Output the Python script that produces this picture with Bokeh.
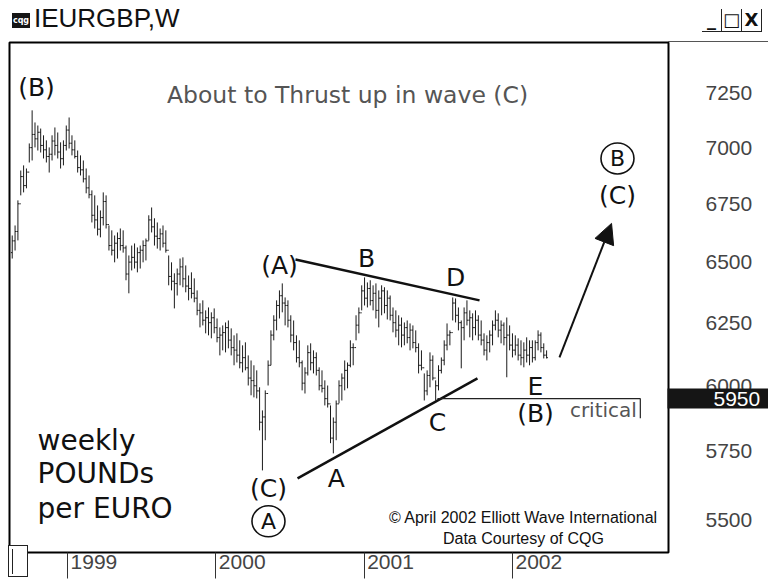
import pandas as pd
from bokeh.plotting import figure
from bokeh.layouts import column
from bokeh.models import (ColumnDataSource, FixedTicker, Arrow, NormalHead, Div,
                          PrintfTickFormatter, LogAxis)
from bokeh.core.properties import value
from bokeh.embed import file_html
from bokeh.resources import INLINE

# ---------------- data (weekly EUR/GBP x 10000) ----------------
first_week = "1998-08-18"

highs = [
    6613, 6656, 6765, 6897, 6920, 6906, 7019, 7171, 7115, 7101,
    7087, 7056, 7033, 7001, 7056, 7092, 7069, 7024, 7033, 7101,
    7138, 7056, 7033, 6987, 6965, 6942, 6906, 6875, 6809, 6787,
    6743, 6721, 6800, 6787, 6656, 6635, 6613, 6626, 6643, 6635,
    6570, 6528, 6570, 6579, 6562, 6570, 6592, 6600, 6700, 6734,
    6687, 6669, 6643, 6656, 6635, 6528, 6499, 6453, 6473, 6515,
    6520, 6486, 6444, 6457, 6432, 6382, 6329, 6341, 6300, 6312,
    6292, 6308, 6267, 6231, 6239, 6251, 6259, 6227, 6199, 6207,
    6179, 6159, 6171, 6119, 6099, 6080, 6060, 5994, 5905, 5982,
    6099, 6219, 6280, 6341, 6382, 6411, 6353, 6341, 6280, 6259,
    6199, 6179, 6099, 6072, 6159, 6167, 6139, 6131, 6072, 6060,
    6021, 6001, 5924, 5878, 5943, 6021, 6048, 6099, 6091, 6179,
    6167, 6280, 6312, 6403, 6436, 6415, 6424, 6403, 6411, 6382,
    6403, 6395, 6382, 6361, 6312, 6300, 6280, 6271, 6251, 6259,
    6247, 6239, 6219, 6167, 6139, 6048, 6060, 6131, 6119, 6021,
    6080, 6111, 6179, 6247, 6219, 6353, 6349, 6312, 6259, 6312,
    6341, 6300, 6288, 6300, 6280, 6259, 6207, 6199, 6219, 6259,
    6300, 6288, 6259, 6251, 6271, 6239, 6207, 6199, 6187, 6179,
    6171, 6191, 6179, 6179, 6179, 6219, 6211, 6167, 6139,
]
lows = [
    6515, 6549, 6592, 6787, 6800, 6818, 6933, 6942, 7001, 6987,
    6978, 6951, 6933, 6888, 6942, 6965, 6951, 6906, 6920, 6987,
    6996, 6965, 6951, 6888, 6875, 6844, 6796, 6774, 6669, 6643,
    6613, 6605, 6656, 6643, 6549, 6528, 6499, 6515, 6549, 6540,
    6424, 6370, 6465, 6473, 6457, 6473, 6499, 6507, 6592, 6626,
    6570, 6557, 6549, 6562, 6540, 6403, 6382, 6308, 6361, 6403,
    6395, 6374, 6341, 6349, 6333, 6280, 6231, 6239, 6207, 6199,
    6187, 6207, 6171, 6119, 6139, 6131, 6147, 6119, 6080, 6091,
    6068, 6052, 6060, 6001, 5963, 5955, 5951, 5829, 5680, 5792,
    6001, 6080, 6179, 6219, 6267, 6292, 6239, 6231, 6171, 6139,
    6091, 6072, 5982, 5970, 6040, 6060, 6048, 6040, 5982, 5974,
    5924, 5916, 5781, 5743, 5792, 5932, 5943, 5982, 5990, 6072,
    6080, 6179, 6207, 6300, 6320, 6312, 6320, 6300, 6267, 6231,
    6280, 6288, 6263, 6259, 6211, 6191, 6159, 6151, 6159, 6167,
    6139, 6147, 6131, 6048, 6060, 5943, 5963, 5994, 6021, 5943,
    5982, 6048, 6080, 6139, 6159, 6259, 6251, 6219, 6068, 6179,
    6239, 6191, 6179, 6199, 6179, 6159, 6119, 6099, 6131, 6159,
    6219, 6191, 6167, 6159, 6033, 6139, 6111, 6119, 6099, 6080,
    6072, 6091, 6080, 6091, 6099, 6139, 6131, 6107, 6107,
]
closes = [
    6590, 6630, 6750, 6870, 6830, 6890, 7000, 7060, 7040, 7070,
    7010, 6990, 6960, 6970, 7030, 7010, 6980, 6950, 7010, 7080,
    7020, 6990, 6960, 6910, 6900, 6860, 6820, 6790, 6700, 6680,
    6640, 6690, 6760, 6660, 6570, 6550, 6580, 6600, 6570, 6560,
    6450, 6500, 6520, 6500, 6540, 6550, 6570, 6590, 6680, 6650,
    6610, 6600, 6620, 6580, 6550, 6440, 6420, 6410, 6450, 6480,
    6430, 6400, 6390, 6370, 6350, 6300, 6290, 6260, 6270, 6250,
    6270, 6230, 6190, 6200, 6210, 6230, 6180, 6150, 6140, 6120,
    6090, 6110, 6070, 6030, 6020, 6000, 5980, 5860, 5880, 5970,
    6080, 6200, 6260, 6320, 6360, 6330, 6320, 6260, 6200, 6170,
    6110, 6090, 6010, 6050, 6130, 6090, 6110, 6060, 6000, 5990,
    5950, 5930, 5800, 5860, 5930, 6000, 6030, 6060, 6080, 6150,
    6150, 6240, 6290, 6380, 6350, 6390, 6340, 6370, 6300, 6350,
    6380, 6320, 6350, 6280, 6250, 6220, 6240, 6200, 6230, 6190,
    6220, 6170, 6150, 6080, 6070, 5980, 6040, 6100, 6030, 6000,
    6060, 6100, 6160, 6200, 6210, 6330, 6280, 6250, 6230, 6290,
    6260, 6270, 6230, 6260, 6200, 6180, 6140, 6170, 6200, 6240,
    6260, 6220, 6240, 6190, 6200, 6160, 6140, 6160, 6120, 6110,
    6140, 6120, 6150, 6110, 6170, 6200, 6150, 6120, 6110,
]
first_open = 6540

price_ticks = [5500, 5750, 6000, 6250, 6500, 6750, 7000, 7250]
year_ticks = [1999, 2000, 2001, 2002]
year_labels = ["1999", "2000", "2001", "2002"]
critical_level = 5950
window_title = "IEURGBP,W"

# Elliott-wave annotations (decimal year, price)
upper_trend_t = [2000.537, 2001.778]
upper_trend_v = [6511, 6341]
lower_trend_t = [2000.551, 2001.764]
lower_trend_v = [5651, 6029]
critical_t = [2001.494, 2002.862, 2002.862]
critical_v = [critical_level, critical_level, 5875]
arrow_t = [2002.317, 2002.668]
arrow_v = [6111, 6665]

wave_text = ["(B)", "(A)", "B", "D", "A", "C", "E", "(B)", "(C)", "(C)", "B", "A"]
wave_t = [1998.791, 2000.429, 2001.016, 2001.616, 2000.813, 2001.494, 2002.155,
          2002.155, 2002.708, 2000.355, 2002.708, 2000.355]
wave_v = [7278, 6486, 6515, 6436, 5651, 5860, 5997, 5894, 6787, 5615, 6951, 5496]
wave_size = ["25px"] * 10 + ["22px", "22px"]
circled_t = [2002.708, 2000.355]
circled_v = [6951, 5496]

# ---------------- derived ----------------
dates = pd.date_range(first_week, periods=len(highs), freq="7D")
t = [d.year + (d.dayofyear - 1) / (366 if d.is_leap_year else 365) for d in dates]
opens = [first_open] + closes[:-1]
tick_w = 0.009
src = ColumnDataSource(dict(t=t, hi=highs, lo=lows, op=opens, cl=closes,
                            tl=[x - tick_w for x in t], tr=[x + tick_w for x in t]))

p = figure(width=768, height=546, x_range=(1998.609, 2003.052), y_range=(5386, 7493),
           y_axis_type="log", y_axis_location="right",
           output_backend="svg", toolbar_location=None,
           min_border_left=9, min_border_right=100, min_border_top=6, min_border_bottom=30)
p.xgrid.visible = False
p.ygrid.visible = False
p.outline_line_color = "black"
p.outline_line_width = 2
p.background_fill_color = "white"
p.border_fill_color = "white"

label_font = "Liberation Sans"
label_size = "21px"
label_color = "#444444"

# price axis (inner, right)
ya = p.yaxis[0]
ya.ticker = FixedTicker(ticks=price_ticks)
ya.formatter = PrintfTickFormatter(format="%d")
ya.major_tick_out = 0
ya.major_tick_in = 0
ya.minor_tick_out = 0
ya.minor_tick_in = 0
ya.axis_line_color = None
ya.major_label_standoff = 37
ya.major_label_text_font = label_font
ya.major_label_text_font_size = label_size
ya.major_label_text_color = label_color

# last-price box (outer right axis: thick black tick with white label)
pa = LogAxis(ticker=FixedTicker(ticks=[critical_level]),
             formatter=PrintfTickFormatter(format="%d"))
pa.axis_line_color = None
pa.major_tick_in = 88
pa.major_tick_out = 13
pa.minor_tick_in = 0
pa.minor_tick_out = 0
pa.major_tick_line_width = 20
pa.major_tick_line_color = "#151515"
pa.major_tick_line_cap = "butt"
pa.major_label_standoff = -55
pa.major_label_text_font = label_font
pa.major_label_text_font_size = label_size
pa.major_label_text_color = "white"
p.add_layout(pa, "right")

# year axis: minor ticks mark the year starts, labels sit just right of them
label_shift = 0.178
label_pos = [y + label_shift for y in year_ticks]
xa = p.xaxis[0]
xa.ticker = FixedTicker(ticks=label_pos, minor_ticks=year_ticks)
xa.major_label_overrides = {pos: s for pos, s in zip(label_pos, year_labels)}
xa.axis_line_color = None
xa.major_tick_line_color = None
xa.major_tick_out = 26
xa.major_tick_in = 0
xa.minor_tick_out = 26
xa.minor_tick_in = 0
xa.minor_tick_line_color = "#333333"
xa.minor_tick_line_width = 1
xa.major_label_standoff = -24
xa.major_label_text_font = label_font
xa.major_label_text_font_size = label_size
xa.major_label_text_color = label_color

# bars
p.segment("t", "lo", "t", "hi", source=src, line_color="#1a1a1a", line_width=1)
p.segment("tl", "op", "t", "op", source=src, line_color="#1a1a1a", line_width=1)
p.segment("t", "cl", "tr", "cl", source=src, line_color="#1a1a1a", line_width=1)

# trend lines
p.line(upper_trend_t, upper_trend_v, line_color="#111111", line_width=2.5)
p.line(lower_trend_t, lower_trend_v, line_color="#111111", line_width=2.5)
p.line(critical_t, critical_v, line_color="#222222", line_width=1.2)
p.add_layout(Arrow(end=NormalHead(size=20, fill_color="#111111", line_color="#111111"),
                   x_start=arrow_t[0], y_start=arrow_v[0], x_end=arrow_t[1], y_end=arrow_v[1],
                   line_width=2, line_color="#111111"))

wsrc = ColumnDataSource(dict(x=wave_t, y=wave_v, text=wave_text, size=wave_size))
p.text("x", "y", text="text", source=wsrc, text_font=value("DejaVu Sans"),
       text_font_size="size", text_align="center", text_baseline="middle",
       text_color="#111111")
p.ellipse(circled_t, circled_v, width=33, height=31, width_units="screen",
          height_units="screen", fill_color=None, line_color="#111111", line_width=1.6)

# other in-plot texts
p.text([2000.888], [7241], text=["About to Thrust up in wave (C)"],
       text_font=value("DejaVu Sans"), text_font_size="23.5px", text_align="center",
       text_baseline="middle", text_color="#555555")
p.text([2002.613], [5905], text=["critical"], text_font=value("DejaVu Sans"),
       text_font_size="20px", text_align="center", text_baseline="middle",
       text_color="#555555")
p.text([1998.798] * 3, [5792, 5669, 5542], text=["weekly", "POUNDs", "per EURO"],
       text_font=value("DejaVu Sans"), text_font_size="28px", text_align="left",
       text_baseline="middle", text_color="#111111")
p.text([2002.074, 2002.074], [5510, 5436],
       text=["\u00a9 April 2002 Elliott Wave International", "Data Courtesy of CQG"],
       text_font=value("Liberation Sans"), text_font_size="16px", text_align="center",
       text_baseline="middle", text_color="#111111")

# window header (plus the scroll-thumb box and the top rule of the chart window)
cell = ("<div style=\"width:20px;height:22px;border-right:1.5px solid #222;"
        "font:bold 18px 'DejaVu Sans';color:#111;text-align:center;line-height:22px;\">{}</div>")
header_html = (
    "<div style=\"position:relative;width:768px;height:36px;\">"
    "<div style=\"position:absolute;left:12px;top:13px;width:18px;height:15px;"
    "background:#151515;color:#fff;font:bold 8px 'DejaVu Sans';line-height:15px;"
    "text-align:center;\">cqg</div>"
    "<div style=\"position:absolute;left:34px;top:3px;font:26px 'Liberation Sans';"
    "color:#111;white-space:nowrap;\">" + window_title + "</div>"
    "<div style=\"position:absolute;left:702px;top:9px;display:flex;"
    "border-bottom:1.5px solid #222;\">"
    + cell.format("_") + cell.format("\u25a1") + cell.format("X") +
    "</div>"
    "<div style=\"position:absolute;left:668px;top:41px;width:100px;height:0;"
    "border-top:1px solid #555;z-index:10;\"></div>"
    "<div style=\"position:absolute;left:8px;top:545px;width:20px;height:32px;"
    "background:#fff;border:1.5px solid #222;z-index:10;\">"
    "<div style=\"position:absolute;left:3px;top:3px;width:0;height:25px;"
    "border-left:1.5px solid #222;\"></div></div>"
    "</div>"
)
header = Div(text=header_html, width=768, height=36, margin=0)

layout = column(header, p, spacing=0)
open("out.html", "w").write(file_html(layout, INLINE))
